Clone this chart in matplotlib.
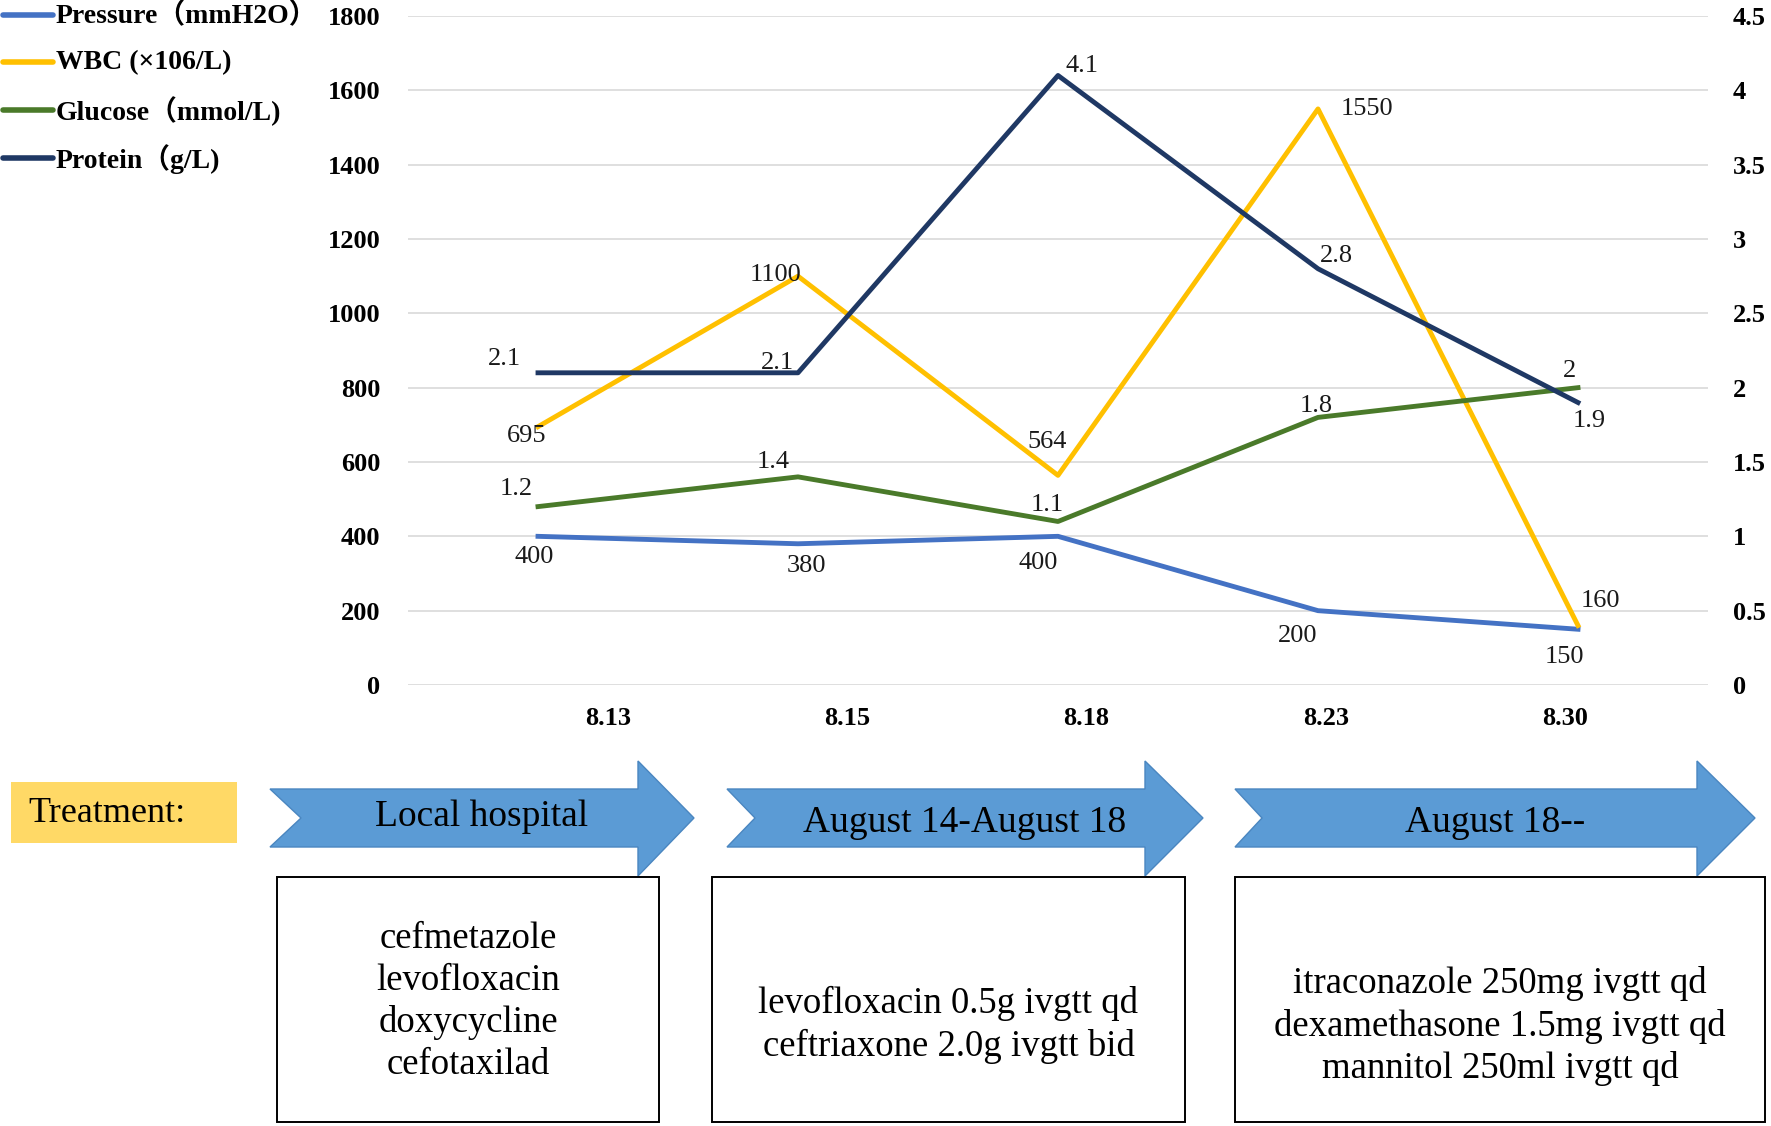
import numpy as np
import matplotlib
matplotlib.use("Agg")
import matplotlib.pyplot as plt
from matplotlib.patches import Polygon, Rectangle

plt.rcParams['font.family'] = ['Liberation Serif', 'Noto Sans CJK SC']

###############################################################################
# Data
dates = ['8.13', '8.15', '8.18', '8.23', '8.30']
pressure = [400, 380, 400, 200, 150]          # left axis
wbc = [695, 1100, 564, 1550, 160]             # left axis
glucose = [1.2, 1.4, 1.1, 1.8, 2.0]           # right axis
protein = [2.1, 2.1, 4.1, 2.8, 1.9]           # right axis
series_names = ['Pressure（mmH2O）', 'WBC (×106/L)',
                'Glucose（mmol/L)', 'Protein（g/L)']

left_ticks = np.arange(0, 1801, 200)
right_ticks = np.arange(0, 4.51, 0.5)

phases = ['Local hospital', 'August 14-August 18', 'August 18--']
regimens = ['cefmetazole\nlevofloxacin\ndoxycycline\ncefotaxilad',
            'levofloxacin 0.5g ivgtt qd\nceftriaxone 2.0g ivgtt bid',
            'itraconazole 250mg ivgtt qd\ndexamethasone 1.5mg ivgtt qd\n'
            'mannitol 250ml ivgtt qd']

# styling
colors = ['#4472C4', '#FFC000', '#4A7A2A', '#1F3864']
# data label offsets in points
off_pressure = [(-3, -15), (6, -16), (-14, -19), (-15, -18), (-10, -20)]
off_wbc = [(-8, -7), (-16, 1), (-8, 24), (35, 0), (16, 18)]
off_glucose = [(-16, 13), (-18, 11), (-8, 12), (-1, 8), (-6, 12)]
off_protein = [(-24, 10), (-15, 7), (17, 7), (13, 9), (8, -13)]

W, H = 1771, 1126
fig = plt.figure(figsize=(W / 100, H / 100), dpi=100)

###############################################################################
# Line chart
ax = fig.add_axes([408 / W, 1 - 685 / H, 1300 / W, 669 / H])
ax2 = ax.twinx()
x = np.arange(len(dates))

ax.plot(x, pressure, color=colors[0], lw=3.5)
ax.plot(x, wbc, color=colors[1], lw=3.5)
ax2.plot(x, glucose, color=colors[2], lw=3.5)
ax2.plot(x, protein, color=colors[3], lw=3.5)

def label_points(axis, values, offsets, fmt='%g'):
    for xi, v, off in zip(x, values, offsets):
        axis.annotate(fmt % v, (xi, v), xytext=off, textcoords='offset points',
                      ha='center', va='center', fontsize=19, color='#1a1a1a')

label_points(ax, pressure, off_pressure)
label_points(ax, wbc, off_wbc)
label_points(ax2, glucose, off_glucose)
label_points(ax2, protein, off_protein)

ax.set_xlim(-0.5, len(dates) - 0.5)
ax.set_ylim(0, 1800)
ax2.set_ylim(0, 4.5)
ax.set_yticks(left_ticks)
ax.set_yticklabels(['%d' % t for t in left_ticks])
ax2.set_yticks(right_ticks)
ax2.set_yticklabels(['%g' % t for t in right_ticks])
# the date labels sit slightly off the data points in the original
ax.set_xticks(x * 0.92 + 0.27)
ax.set_xticklabels(dates)
ax.yaxis.grid(True, color='#D9D9D9', lw=1.2)
ax.set_axisbelow(True)
for a in (ax, ax2):
    for s in a.spines.values():
        s.set_visible(False)
    a.tick_params(length=0, labelsize=19)
    for t in a.get_xticklabels() + a.get_yticklabels():
        t.set_fontweight('bold')
ax.tick_params(axis='y', pad=20)
ax.tick_params(axis='x', pad=16)
ax2.tick_params(axis='y', pad=18)

###############################################################################
# Legend and treatment timeline (pixel coordinates on an overlay)
ov = fig.add_axes([0, 0, 1, 1], zorder=-1)
ov.set_xlim(0, W)
ov.set_ylim(H, 0)
ov.axis('off')

legend_rows = [15, 62, 110, 158]
for ly, name, c in zip(legend_rows, series_names, colors):
    ov.plot([3, 53], [ly, ly], color=c, lw=4, solid_capstyle='round')
    ov.text(56, ly + 1, name, fontsize=20, fontweight='bold',
            ha='left', va='center')

ov.add_patch(Rectangle((11, 782), 226, 61, color='#FFD966', lw=0))
ov.text(28, 813, 'Treatment:', fontsize=26, ha='left', va='center')

arrows = [(270, 301, 638, 694), (727, 755, 1145, 1203), (1235, 1262, 1697, 1755)]
label_xy = [(482, 817), (965, 823), (1495, 823)]
boxes = [(277, 659), (712, 1185), (1235, 1765)]
box_cy = [1002, 1025, 1026]
for (x0, xn, xb, xt), name, (lx, ly) in zip(arrows, phases, label_xy):
    pts = [(x0, 789), (xb, 789), (xb, 761), (xt, 818), (xb, 876),
           (xb, 847), (x0, 847), (xn, 818)]
    ov.add_patch(Polygon(pts, closed=True, facecolor='#5B9BD5',
                         edgecolor='#4A86C0', lw=1))
    ov.text(lx, ly, name, fontsize=27, ha='center', va='center')

for (bx0, bx1), txt, cy in zip(boxes, regimens, box_cy):
    ov.add_patch(Rectangle((bx0, 877), bx1 - bx0, 245, facecolor='white',
                           edgecolor='black', lw=1.4))
    ov.text((bx0 + bx1) / 2, cy, txt, fontsize=26.5, ha='center',
            va='center', linespacing=1.27)

fig.savefig('out.png', dpi=100)
